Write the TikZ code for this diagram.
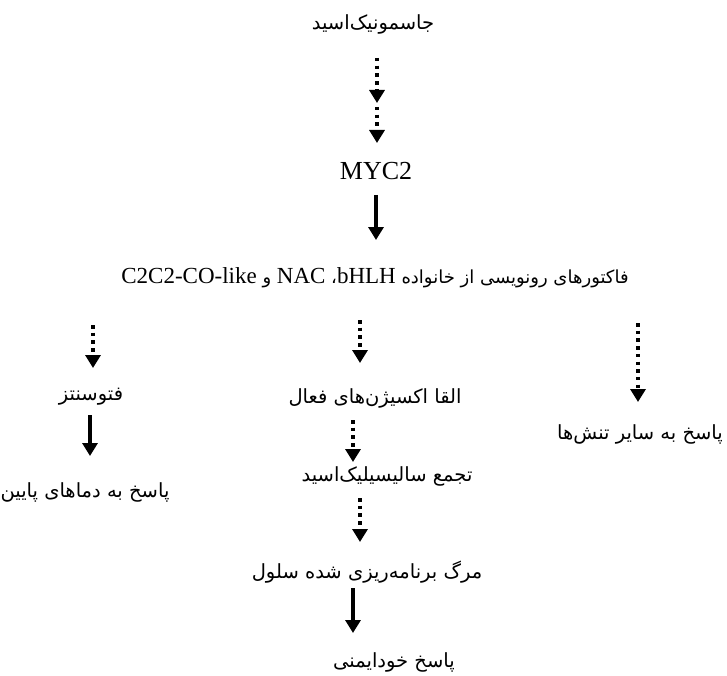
\documentclass[tikz,border=0pt]{standalone}
\usepackage{fontspec}
\setmainfont{Liberation Serif}
\newfontfamily\fa[Script=Arabic]{DejaVu Sans}
\TeXXeTstate=1
\usetikzlibrary{arrows.meta}
\tikzset{
  lbl/.style={inner sep=0pt, font=\fa\fontsize{19.5}{22}\selectfont},
  lat/.style={inner sep=0pt, font=\fontsize{26}{30}\selectfont},
  dotarrow/.style={line width=3.3pt, dash pattern=on 3.5pt off 4.2pt, -{Triangle[length=13pt,width=15pt]}},
  solidarrow/.style={line width=3.5pt, -{Triangle[length=13pt,width=15pt]}}
}
\newcommand{\latw}[1]{{\rmfamily\fontsize{23}{28}\selectfont #1}}
\begin{document}
\begin{tikzpicture}[x=1pt,y=-1pt]
\useasboundingbox (0,0) rectangle (727,676);
% nodes
\node[lbl] (ja) at (373,24) {\beginR جاسمونیک‌اسید\endR};
\node[lat] (myc) at (376,171) {MYC2};
\node[lbl, font=\fa\fontsize{18}{20}\selectfont] (tf) at (375,278) {\beginR فاکتورهای رونویسی از خانواده \beginL\latw{bHLH}\endL، \beginL\latw{NAC}\endL{} و \beginL\latw{C2C2-CO-like}\endL\endR};
\node[lbl] (ph) at (91,397) {\beginR فتوسنتز\endR};
\node[lbl] (cold) at (85,492) {\beginR پاسخ به دماهای پایین\endR};
\node[lbl] (ros) at (375,398) {\beginR القا اکسیژن‌های فعال\endR};
\node[lbl] (sa) at (387,476) {\beginR تجمع سالیسیلیک‌اسید\endR};
\node[lbl] (pcd) at (367,572) {\beginR مرگ برنامه‌ریزی شده سلول\endR};
\node[lbl] (auto) at (394,662) {\beginR پاسخ خودایمنی\endR};
\node[lbl] (oth) at (640,434) {\beginR پاسخ به سایر تنش‌ها\endR};
% arrow end points
\coordinate (a1s) at (377,58);
\coordinate (a1e) at (377,103);
\coordinate (a2s) at (377,107);
\coordinate (a2e) at (377,143);
\coordinate (b1s) at (376,195);
\coordinate (b1e) at (376,240);
\coordinate (l1s) at (93,325);
\coordinate (l1e) at (93,368);
\coordinate (l2s) at (90,415);
\coordinate (l2e) at (90,456);
\coordinate (m1s) at (360,320);
\coordinate (m1e) at (360,363);
\coordinate (m2s) at (353,420);
\coordinate (m2e) at (353,462);
\coordinate (m3s) at (360,498);
\coordinate (m3e) at (360,542);
\coordinate (m4s) at (353,588);
\coordinate (m4e) at (353,633);
\coordinate (r1s) at (638,323);
\coordinate (r1e) at (638,402);
% arrows
\draw[dotarrow] (a1s) -- (a1e);
\draw[dotarrow] (a2s) -- (a2e);
\draw[solidarrow] (b1s) -- (b1e);
\draw[dotarrow] (l1s) -- (l1e);
\draw[solidarrow] (l2s) -- (l2e);
\draw[dotarrow] (m1s) -- (m1e);
\draw[dotarrow] (m2s) -- (m2e);
\draw[dotarrow] (m3s) -- (m3e);
\draw[solidarrow] (m4s) -- (m4e);
\draw[dotarrow] (r1s) -- (r1e);
\end{tikzpicture}
\end{document}
